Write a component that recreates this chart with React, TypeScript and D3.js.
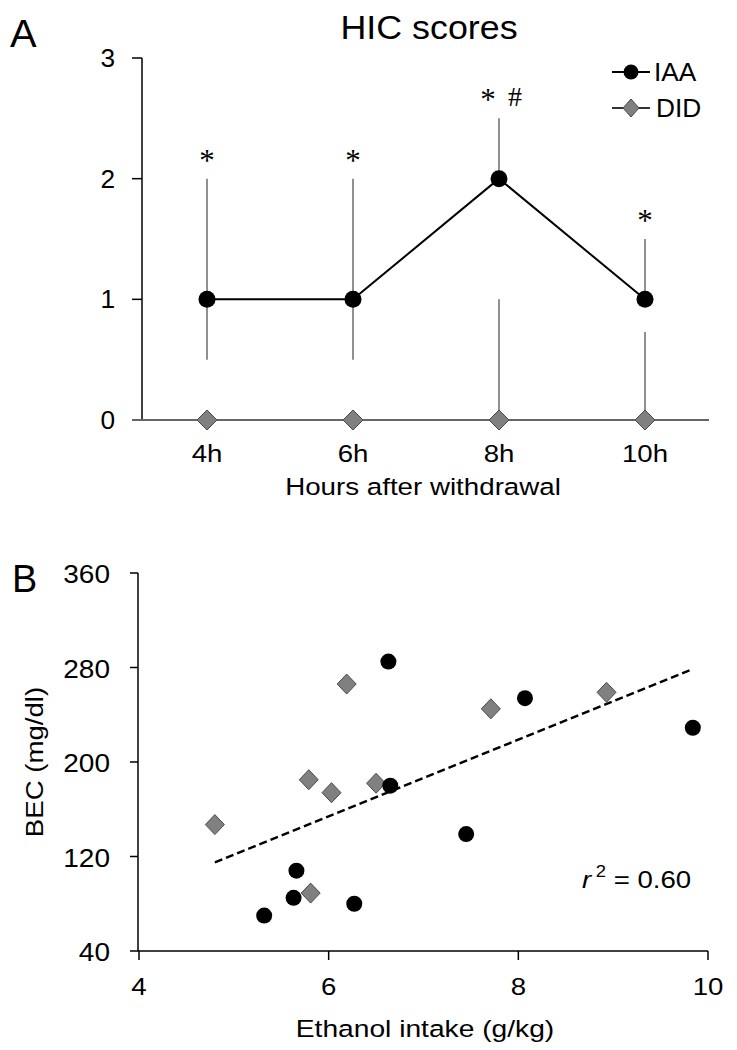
import React from "react";
import * as d3 from "d3";

// Panel A data
const hours = ["4h", "6h", "8h", "10h"];
const iaaMedian = [1, 1, 2, 1];
const iaaLow = [0.5, 0.5, 2, 1];
const iaaHigh = [2, 2, 2.5, 1.5];
const didMedian = [0, 0, 0, 0];
const didLow = [0, 0, 0, 0];
const didHigh = [0, 0, 1, 0.73];
const sigMarks = ["*", "*", "* #", "*"];
const yTicksA = [0, 1, 2, 3];

// Panel B data
const iaaIntake = [6.63, 8.07, 9.84, 6.65, 7.45, 5.66, 5.63, 6.27, 5.32];
const iaaBEC = [285, 254, 229, 180, 139, 108, 85, 80, 70];
const didIntake = [6.19, 7.71, 8.93, 5.79, 6.03, 6.5, 4.8, 5.81];
const didBEC = [266, 245, 259, 185, 174, 182, 147, 89];
const fitX = [4.8, 9.82];
const fitY = [115, 278];
const xTicksB = [4, 6, 8, 10];
const yTicksB = [40, 120, 200, 280, 360];

const FONT = "'Liberation Sans', Arial, sans-serif";
const SERIF = "'Liberation Serif', 'Times New Roman', serif";
const GRAY = "#808080";
const GRAY_STROKE = "#4a4a4a";

function T({
  x,
  y,
  size,
  sx = 1.12,
  anchor = "start",
  rotate = 0,
  family = FONT,
  children,
}: {
  x: number;
  y: number;
  size: number;
  sx?: number;
  anchor?: string;
  rotate?: number;
  family?: string;
  children: React.ReactNode;
}) {
  return (
    <g transform={`translate(${x},${y}) rotate(${rotate}) scale(${sx},1)`}>
      <text x={0} y={0} fontSize={size} textAnchor={anchor as any} fontFamily={family} fill="#000">
        {children}
      </text>
    </g>
  );
}

function Diamond({ x, y, r, rx }: { x: number; y: number; r: number; rx?: number }) {
  const w = rx ?? r;
  return (
    <path
      d={`M${x},${y - r}L${x + w},${y}L${x},${y + r}L${x - w},${y}Z`}
      fill={GRAY}
      stroke={GRAY_STROKE}
      strokeWidth={1}
    />
  );
}

export default function App() {
  const xA = d3.scalePoint<string>().domain(hours).range([207, 645]);
  const yA = d3.scaleLinear().domain([0, 3]).range([420, 58]);
  const xB = d3.scaleLinear().domain([4, 10]).range([139, 708]);
  const yB = d3.scaleLinear().domain([40, 360]).range([951, 573]);

  const iaaLine = d3
    .line<number>()
    .x((_, i) => xA(hours[i]) as number)
    .y((d) => yA(d));

  const axA = 142;
  const axB = 138;

  return (
    <svg
      width={737}
      height={1050}
      style={{ position: "absolute", left: 0, top: 0 }}
      fontFamily={FONT}
    >
      <rect width={737} height={1050} fill="#fff" />
      {/* Panel A */}
      <T x={10} y={47} size={38} sx={1.05}>A</T>
      <T x={429} y={39} size={33.5} sx={1.07} anchor="middle">HIC scores</T>

      {/* error bars */}
      {hours.map((h, i) => (
        <g key={"eb" + h} stroke="#555" strokeWidth={1.3}>
          {iaaHigh[i] > iaaLow[i] && (
            <line x1={xA(h)} x2={xA(h)} y1={yA(iaaLow[i])} y2={yA(iaaHigh[i])} />
          )}
          {didHigh[i] > didLow[i] && (
            <line x1={xA(h)} x2={xA(h)} y1={yA(didLow[i])} y2={yA(didHigh[i])} />
          )}
        </g>
      ))}

      {/* axes */}
      <line x1={axA} x2={axA} y1={yA(3)} y2={yA(0)} stroke="#000" strokeWidth={1.5} />
      {yTicksA.map((t) => (
        <g key={"ya" + t}>
          <line x1={axA - 10} x2={axA} y1={yA(t)} y2={yA(t)} stroke="#000" strokeWidth={1.5} />
          <T x={115} y={yA(t) + 9} size={25} sx={1.05} anchor="end">{t}</T>
        </g>
      ))}
      <line x1={132} x2={709} y1={yA(0)} y2={yA(0)} stroke="#666" strokeWidth={2} />
      {hours.map((h) => (
        <T key={"xl" + h} x={xA(h) as number} y={462} size={24} sx={1.15} anchor="middle">{h}</T>
      ))}
      <T x={423} y={495} size={23.5} sx={1.18} anchor="middle">Hours after withdrawal</T>

      {/* IAA line */}
      <path d={iaaLine(iaaMedian) || ""} fill="none" stroke="#000" strokeWidth={2} />
      {hours.map((h, i) => (
        <circle key={"ia" + h} cx={xA(h)} cy={yA(iaaMedian[i])} r={8.5} fill="#000" />
      ))}
      {hours.map((h, i) => (
        <Diamond key={"dd" + h} x={xA(h) as number} y={yA(didMedian[i])} r={10} rx={10} />
      ))}

      {/* significance marks */}
      {hours.map((h, i) =>
        sigMarks[i] === "*" ? (
          <T key={"sig" + h} x={xA(h) as number} y={yA(iaaHigh[i]) - 8} size={31} sx={1} anchor="middle" family={SERIF}>
            *
          </T>
        ) : (
          <g key={"sig" + h}>
            <T x={(xA(h) as number) - 11} y={yA(iaaHigh[i]) - 8} size={31} sx={1} anchor="middle" family={SERIF}>
              *
            </T>
            <T x={(xA(h) as number) + 16} y={yA(iaaHigh[i]) - 12} size={28} sx={1} anchor="middle" family={SERIF}>
              #
            </T>
          </g>
        )
      )}

      {/* legend */}
      <g>
        <line x1={612} x2={650} y1={72} y2={72} stroke="#000" strokeWidth={2} />
        <circle cx={631} cy={72} r={7.5} fill="#000" />
        <T x={654} y={81} size={25} sx={1.05}>IAA</T>
        <line x1={612} x2={650} y1={108} y2={108} stroke="#333" strokeWidth={2} />
        <Diamond x={631} y={108} r={9} rx={8} />
        <T x={656} y={117} size={25} sx={1.05}>DID</T>
      </g>

      {/* Panel B */}
      <T x={12} y={592} size={39} sx={0.97}>B</T>
      <line x1={axB} x2={axB} y1={yB(360)} y2={yB(40)} stroke="#000" strokeWidth={1.5} />
      {yTicksB.map((t) => (
        <g key={"yb" + t}>
          <line x1={axB - 8} x2={axB} y1={yB(t)} y2={yB(t)} stroke="#000" strokeWidth={1.5} />
          <T x={110} y={yB(t) + 10} size={25} sx={1.12} anchor="end">{t}</T>
        </g>
      ))}
      <line x1={axB} x2={xB(10)} y1={yB(40)} y2={yB(40)} stroke="#000" strokeWidth={1.5} />
      {xTicksB.map((t) => (
        <g key={"xb" + t}>
          <line x1={xB(t)} x2={xB(t)} y1={951} y2={960} stroke="#000" strokeWidth={1.5} />
          <T x={xB(t)} y={995} size={24} sx={1.15} anchor="middle">{t}</T>
        </g>
      ))}
      <T x={425} y={1037} size={23.5} sx={1.2} anchor="middle">Ethanol intake (g/kg)</T>
      <T x={43} y={yB(200)} size={24} sx={1.15} rotate={-90} anchor="middle">BEC (mg/dl)</T>

      {/* regression line */}
      <line
        x1={xB(fitX[0])}
        y1={yB(fitY[0])}
        x2={xB(fitX[1])}
        y2={yB(fitY[1])}
        stroke="#000"
        strokeWidth={2.5}
        strokeDasharray="8,4"
      />

      {didIntake.map((v, i) => (
        <Diamond key={"bd" + i} x={xB(v)} y={yB(didBEC[i])} r={10} rx={9.5} />
      ))}
      {iaaIntake.map((v, i) => (
        <circle key={"bi" + i} cx={xB(v)} cy={yB(iaaBEC[i])} r={8} fill="#000" />
      ))}

      <T x={582} y={888} size={24} sx={1.15}>
        <tspan fontStyle="italic">r</tspan>
        <tspan dx={4} dy={-11} fontSize={16}>2</tspan>
        <tspan dy={11}> = 0.60</tspan>
      </T>
    </svg>
  );
}
